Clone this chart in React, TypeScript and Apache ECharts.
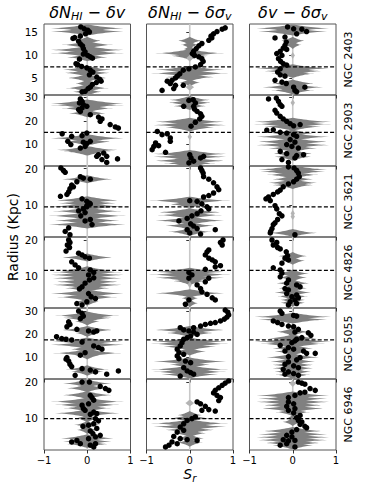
import React, { useEffect, useRef } from 'react';
import * as echarts from 'echarts';

const galaxies = ['NGC 2403', 'NGC 2903', 'NGC 3621', 'NGC 4826', 'NGC 5055', 'NGC 6946'];
const yMin = [1.3, 0.77, 1.18, 0.95, 0.63, 1.27];
const yMax = [16.74, 31.0, 20.74, 20.84, 31.3, 20.83];
const yTicks = [[5, 10, 15], [10, 20, 30], [10, 20], [10, 20], [10, 20, 30], [10, 20]];
const dashed = [7.4, 15.1, 9.5, 11.5, 17.5, 9.9];
const xTicks = [-1, 0, 1];

// points: [S_r, radius]
const p2403a = [[-0.15,16.1],[-0.07,15.7],[0.01,15.4],[0.05,15.0],[-0.04,14.6],[-0.16,14.1],[-0.29,13.8],[-0.33,13.6],[-0.2,13.0],[-0.16,12.4],[-0.11,12.0],[-0.09,11.4],[-0.05,10.7],[-0.09,10.2],[0.01,9.9],[0.07,9.6],[0.12,9.3],[-0.18,9.1],[-0.26,8.1],[-0.22,7.9],[-0.13,7.5],[-0.01,7.2],[0.07,6.7],[0.13,6.3],[0.05,5.7],[0.22,5.2],[0.29,4.7],[0.32,4.3],[0.21,4.0],[0.12,3.6],[0.07,3.0],[0.02,2.7],[-0.05,2.1],[-0.12,2.0]];
const p2403b = [[0.82,15.9],[0.75,15.6],[0.63,15.1],[0.55,14.6],[0.49,14.1],[0.51,13.7],[0.44,13.2],[0.28,12.5],[0.21,12.0],[0.15,11.4],[0.09,10.8],[0.06,10.3],[0.11,9.9],[0.21,9.6],[0.28,9.2],[0.31,8.6],[0.25,7.9],[0.13,7.4],[-0.02,7.0],[-0.15,6.7],[-0.23,5.9],[-0.29,5.4],[-0.33,5.0],[-0.41,4.5],[-0.52,4.3],[-0.45,3.8],[-0.33,3.4],[-0.15,3.4],[-0.37,2.7],[-0.64,2.3]];
const p2403c = [[-0.12,16.1],[0.02,15.7],[0.21,15.6],[0.32,15.1],[0.09,14.6],[-0.18,13.9],[-0.41,13.7],[-0.15,12.8],[-0.18,12.1],[-0.22,11.5],[-0.14,11.2],[-0.29,10.8],[-0.37,10.3],[-0.25,9.9],[-0.33,9.2],[-0.28,8.6],[-0.22,8.1],[-0.14,7.8],[-0.29,7.0],[-0.35,6.3],[-0.29,5.7],[-0.18,5.4],[-0.41,4.5],[-0.25,4.1],[-0.15,3.8],[0.02,3.0],[0.05,2.3],[0.09,2.0],[0.28,3.0]];
const p2903a = [[-0.16,29.3],[-0.12,28.3],[-0.18,27.6],[-0.09,26.9],[-0.01,26.2],[-0.12,25.5],[-0.2,24.8],[-0.16,24.0],[0.07,22.6],[0.26,21.6],[0.34,20.8],[0.3,19.8],[0.53,18.4],[0.65,17.4],[0.72,16.9],[-0.58,14.5],[-0.36,13.4],[-0.12,13.7],[-0.01,14.8],[-0.45,11.3],[-0.38,9.9],[-0.09,10.9],[-0.01,10.3],[0.07,11.3],[-0.16,8.4],[-0.05,9.1],[0.26,5.6],[0.38,6.3],[0.45,4.9],[0.22,4.9],[0.34,3.5],[0.45,2.3],[0.7,3.8]];
const p2903b = [[-0.14,26.2],[-0.02,28.7],[0.08,29.0],[0.13,27.6],[0.09,26.2],[0.11,25.0],[0.17,24.0],[0.25,23.0],[0.28,21.9],[0.23,20.8],[0.13,19.4],[0.03,17.7],[-0.75,15.5],[-0.64,14.1],[-0.52,14.5],[-0.45,12.7],[-0.45,11.3],[-0.79,10.6],[-0.83,9.1],[-0.72,9.4],[-0.87,7.7],[-0.56,6.6],[0,5.6],[0.03,4.2],[0.09,2.8],[0.25,4.2],[0.32,4.9],[-0.02,2.1]];
const p2903c = [[-0.56,29.3],[-0.38,29.7],[-0.33,28.3],[-0.29,26.9],[-0.25,26.2],[-0.41,24.5],[-0.37,23.3],[-0.29,21.9],[-0.22,20.8],[-0.14,19.8],[-0.06,18.8],[0.02,17.9],[0.17,18.4],[-0.6,16.0],[-0.45,16.2],[-0.29,15.1],[-0.14,14.8],[0.02,14.1],[0.09,13.4],[-0.06,12.0],[0.05,10.9],[-0.14,9.9],[-0.02,9.1],[0.13,8.4],[-0.29,7.0],[-0.14,6.0],[0.09,5.2],[0.25,5.6],[-0.25,3.5],[-0.1,2.3],[0.05,4.2]];
const p3621a = [[-0.61,20.2],[-0.55,19.5],[-0.51,19.0],[-0.16,17.8],[-0.09,17.4],[0.07,17.1],[-0.24,16.4],[-0.36,15.5],[-0.32,15.0],[-0.4,14.5],[-0.43,13.6],[-0.47,12.9],[-0.62,12.4],[-0.12,11.7],[-0.01,11.0],[0.07,10.3],[0.05,10.5],[-0.01,9.8],[-0.01,9.5],[-0.09,8.9],[-0.2,8.4],[-0.05,7.9],[-0.15,7.0],[0.07,6.0],[-0.05,5.6],[0.11,4.6],[-0.43,3.7],[-0.51,2.7],[-0.4,1.8]];
const p3621b = [[0.25,20.2],[0.28,19.5],[0.31,18.8],[0.32,17.8],[0.44,17.1],[0.55,16.1],[0.63,15.0],[0.67,14.2],[0.55,13.3],[0.44,12.6],[0.32,12.2],[0.17,11.0],[0,11.2],[0.28,10.3],[0.4,9.5],[0.44,8.9],[0.26,8.4],[0.17,7.6],[0.05,7.0],[-0.06,6.3],[-0.25,5.6],[0.02,4.8],[0.09,4.2],[0.17,3.5],[-0.06,3.2],[0,2.3],[0.25,2.0],[0.59,3.2]];
const p3621c = [[-0.1,20.5],[0.03,20.2],[0.09,19.5],[0.13,18.8],[0.15,17.8],[0.09,17.1],[0.02,16.4],[-0.1,15.8],[-0.22,15.0],[-0.29,14.1],[-0.35,13.6],[-0.45,12.9],[-0.56,12.2],[-0.62,11.7],[-0.52,11.2],[-0.41,9.8],[-0.37,8.9],[-0.31,7.6],[-0.25,7.0],[-0.35,6.0],[-0.41,5.1],[-0.45,4.6],[-0.48,3.5],[-0.51,2.7],[-0.52,2.3],[0.05,1.8]];
const p4826a = [[-0.43,20],[-0.4,19.3],[-0.46,18.6],[-0.41,17.9],[-0.49,16.9],[-0.2,16.3],[-0.12,15.8],[-0.05,15.3],[0.05,14.9],[-0.36,13.9],[-0.28,13.0],[-0.2,12.2],[0.07,11.6],[0.15,10.9],[0.03,10.2],[0.15,9.4],[0.05,8.8],[-0.05,7.9],[-0.12,6.9],[-0.18,6.3],[0.03,5.0],[0.09,4.1],[0.19,3.6],[-0.24,2.2],[-0.12,1.8],[-0.01,2.7]];
const p4826b = [[0.77,20],[0.71,19.3],[0.75,18.6],[0.44,17.2],[0.4,16.7],[0.36,15.8],[0.44,14.9],[0.52,14.4],[0.59,13.9],[0.71,12.8],[0.59,12.5],[0.36,11.8],[-0.02,10.9],[0.05,10.2],[-0.02,9.3],[0.44,9.3],[0.36,8.3],[0.17,7.4],[0.25,6.4],[0.28,5.5],[0.4,4.8],[0.52,3.8],[0.59,3.2],[-0.1,2.0],[-0.02,3.2]];
const p4826c = [[-0.48,20],[-0.37,19.3],[-0.45,18.6],[-0.35,17.9],[-0.29,17.5],[-0.15,16.7],[-0.12,15.6],[-0.18,14.9],[-0.1,14.4],[-0.25,13.5],[-0.45,12.2],[-0.29,11.6],[-0.25,10.7],[-0.29,9.7],[-0.1,8.8],[-0.14,7.9],[0.09,7.4],[0.17,6.9],[-0.18,6.4],[-0.1,6.0],[-0.14,5.0],[0.09,4.6],[0.13,3.8],[-0.02,4.1],[0.05,3.2],[-0.06,2.7],[0.09,2.2],[-0.1,1.8]];
const p5055a = [[-0.2,30],[-0.12,29],[-0.09,27.8],[-0.16,26.7],[-0.43,25.3],[-0.4,24.2],[-0.47,23.2],[-0.24,22.1],[0.03,21.4],[0.15,20.9],[0.22,21.4],[-0.71,18.9],[-0.59,18.1],[-0.49,17.8],[-0.36,17.5],[-0.12,16.6],[0.15,14.9],[0.26,14.2],[0.34,13.5],[-0.05,12.0],[-0.16,10.9],[-0.47,9.9],[-0.49,9.2],[-0.43,8.4],[-0.4,7.0],[-0.36,6.0],[-0.12,5.1],[0.07,4.5],[0.19,3.7],[0.45,2.7],[0.72,4.1],[-0.28,2.2]];
const p5055b = [[0.82,30.4],[0.88,29.5],[0.9,28.3],[0.86,27.4],[0.8,26.5],[0.71,25.7],[0.59,25.0],[0.48,24.7],[0.36,24.2],[0.25,23.5],[0.09,22.8],[-0.22,22.8],[-0.14,21.8],[-0.02,21.4],[0.09,20.9],[0.17,19.9],[0.02,19.2],[-0.06,18.5],[-0.14,17.8],[-0.18,16.3],[-0.22,14.9],[-0.29,13.5],[-0.25,12.0],[-0.14,11.3],[-0.29,10.6],[-0.25,9.4],[-0.1,8.4],[0.02,7.7],[-0.14,5.5],[-0.06,4.1],[0.02,3.4],[0.09,2.7],[-0.22,1.9]];
const p5055c = [[-0.29,30],[-0.25,29],[0.02,28.1],[0.09,27.8],[-0.45,25.7],[-0.35,25.0],[-0.25,24.2],[-0.1,23.5],[0.02,23.2],[0.13,22.1],[0.05,20.9],[0.36,20.6],[0.42,19.5],[0.21,18.5],[0.09,17.8],[0.05,17.1],[-0.02,16.3],[-0.29,15.2],[-0.1,14.2],[0.02,13.5],[-0.18,12.7],[0.25,12.7],[0.32,11.7],[0.52,11.7],[-0.1,10.3],[0.17,9.9],[0.09,8.9],[-0.1,8.0],[-0.18,7.0],[0.02,6.3],[0.13,5.5],[-0.22,4.8],[-0.1,3.7],[0.02,3.0],[0.13,2.2],[-0.18,2.7]];
const p6946a = [[-0.12,20],[0.05,20],[0.3,18.8],[0.42,18.2],[0.5,17.7],[0.07,16.3],[0.11,15.7],[0.15,15.0],[0.03,14.0],[-0.12,13.6],[-0.09,12.7],[-0.05,12.2],[0.15,11.7],[0.22,11.3],[0.07,11.1],[0.19,9.9],[0.26,9.3],[0.15,8.5],[0.03,8.1],[-0.1,7.8],[0.22,7.2],[0.07,6.5],[0.13,5.8],[0.3,5.3],[0.19,4.9],[0.03,4.4],[-0.24,3.9],[-0.36,3.5],[-0.16,3.0],[0.07,2.6],[0.19,3.0],[0.15,2.1]];
const p6946b = [[0.9,20.3],[0.82,19.7],[0.75,19.1],[0.67,18.4],[0.59,17.7],[0.55,17.0],[0.63,16.3],[0.71,15.7],[0.67,14.9],[0.17,14.5],[0.25,14.0],[0.36,13.3],[0.44,12.4],[0.28,12.2],[0.59,12.0],[0.13,10.4],[0.05,9.9],[-0.06,9.4],[-0.14,8.5],[-0.22,7.6],[-0.14,6.7],[-0.29,6.2],[-0.37,5.0],[-0.22,4.4],[-0.06,4.1],[0.17,3.9],[-0.41,3.5],[-0.48,2.6],[-0.56,2.1],[-0.29,3.0]];
const p6946c = [[0.13,20],[0.21,19.7],[0.28,19.4],[0.4,18.2],[0.52,17.7],[0.28,17.2],[0.17,17.0],[0.05,16.3],[-0.1,15.7],[-0.1,14.5],[0.02,14.0],[-0.14,13.3],[0.05,12.7],[-0.1,12.2],[0.02,11.5],[0.17,10.8],[0.09,10.2],[0.13,9.4],[0.21,9.0],[0.17,8.3],[0.28,7.8],[0.32,7.4],[0.09,6.9],[-0.02,6.2],[-0.14,5.3],[-0.02,4.9],[-0.22,4.1],[-0.1,3.8],[0.05,3.9],[-0.14,3.0],[-0.29,2.6],[0.05,2.1]];

// violins: [radius, half-extent in S_r]
const v2403a = [[15.8,0.9],[15.1,0.9],[13.1,0.35],[12.2,0.6],[11.1,0.9],[10.4,0.85],[9.5,0.5],[6.8,0.6],[6.1,0.55],[5.0,0.5],[3.8,0.3],[2.8,0.5],[2.0,0.35]];
const v2403b = [[13.1,0.3],[12.2,0.2],[11.3,0.15],[10.4,0.8],[9.8,0.45],[9.3,0.08],[6.8,0.85],[6.0,0.9],[5.2,0.6],[4.0,0.25],[3.0,0.1]];
const v2403c = [[15.8,0.9],[15.1,0.85],[13.1,0.3],[12.2,0.2],[9.9,0.05],[7.1,0.9],[6.5,0.7],[5.9,0.5],[3.8,0.55],[3.0,0.75],[2.3,0.5]];
const v2903a = [[27.4,0.9],[26.7,0.85],[25.3,0.6],[23.2,0.45],[12.6,0.9],[11.1,0.6],[7.6,0.75],[6.9,0.55]];
const v2903b = [[28.9,0.5],[27.7,0.55],[26.3,0.4],[19.6,0.85],[18.2,0.9],[17.2,0.6],[13.2,0.05],[5.9,0.9],[4.7,0.9],[3.0,0.9],[1.9,0.6]];
const v2903c = [[27.7,0.05],[19.6,0.95],[18.6,0.9],[17.5,0.7],[14.7,0.5],[13.2,0.9],[11.1,0.9],[9.7,0.9],[8.3,0.6],[6.1,0.5],[4.7,0.45]];
const v3621a = [[17.1,0.62],[11.3,0.8],[10.5,0.7],[9.6,0.9],[8.3,0.8],[7.0,0.9],[5.7,0.8],[4.6,0.95]];
const v3621b = [[11.2,0.95],[10.2,0.5],[8.8,0.05],[8.0,0.8],[7.2,0.75],[6.2,0.3],[5.7,0.85],[4.3,0.6],[2.6,0.5]];
const v3621c = [[19.8,0.85],[19.2,0.8],[18.3,0.6],[17.1,0.5],[16.1,0.6],[15.5,0.5],[7.7,0.05],[6.8,0.05],[2.3,0.6]];
const v4826a = [[15.1,0.65],[11.5,0.6],[11.0,0.8],[10.2,0.9],[9.3,0.85],[8.3,0.8],[7.4,0.85],[6.5,0.55],[5.0,0.9],[4.0,0.7],[2.7,0.3]];
const v4826b = [[11.1,0.9],[10.3,0.95],[9.4,0.85],[8.5,0.4],[7.5,0.05],[5.1,0.85],[3.7,0.2],[2.3,0.2]];
const v4826c = [[15.5,0.35],[14.2,0.3],[10.6,0.4],[9.5,0.35],[7.9,0.4],[6.5,0.35],[5.3,0.45],[4.2,0.35],[3.2,0.3],[2.4,0.3]];
const v5055a = [[28.0,0.75],[27.0,0.6],[25.5,0.3],[21.8,0.65],[20.5,0.3],[16.8,0.85],[15.4,0.9],[13.5,0.4],[11.8,0.8],[10.8,0.3],[4.8,0.5],[3.8,0.4]];
const v5055b = [[21.8,0.9],[20.5,0.6],[16.8,0.9],[15.8,0.9],[14.6,0.65],[12.5,0.4],[8.2,0.9],[6.8,0.5],[4.8,0.9],[3.7,0.85],[2.6,0.7]];
const v5055c = [[27.5,0.95],[26.3,0.85],[21.0,0.4],[18.2,0.6],[16.8,0.95],[15.8,0.75],[13.9,0.5],[12.5,0.45],[10.0,0.65],[8.2,0.55],[6.7,0.5],[5.3,0.5],[3.8,0.45],[2.4,0.4]];
const v6946a = [[19.6,0.6],[18.3,0.5],[16.4,0.6],[14.6,0.85],[13.7,0.75],[12.8,0.55],[11.4,0.8],[10.0,0.3],[8.2,0.3],[6.8,0.25],[4.5,0.65],[3.6,0.6],[2.9,0.5]];
const v6946b = [[14.2,0.1],[10.9,0.3],[10.0,0.5],[8.6,0.9],[7.7,0.9],[6.8,0.6],[5.9,0.4],[4.5,0.35],[3.3,0.3]];
const v6946c = [[19.6,0.08],[16.3,0.9],[15.4,0.85],[14.5,0.9],[13.6,0.75],[12.7,0.8],[11.7,0.4],[10.0,0.15],[9.0,0.25],[6.5,0.75],[5.6,0.85],[4.8,0.9],[4.0,0.85],[3.2,0.7],[2.5,0.5]];

const panelPoints = [
  [p2403a, p2403b, p2403c], [p2903a, p2903b, p2903c], [p3621a, p3621b, p3621c],
  [p4826a, p4826b, p4826c], [p5055a, p5055b, p5055c], [p6946a, p6946b, p6946c],
];
const panelViolins = [
  [v2403a, v2403b, v2403c], [v2903a, v2903b, v2903c], [v3621a, v3621b, v3621c],
  [v4826a, v4826b, v4826c], [v5055a, v5055b, v5055c], [v6946a, v6946b, v6946c],
];

const COL_LEFT = [44, 146.5, 249.5];
const COL_W = 86.5;
const ROW_TOP0 = 24;
const ROW_H = 71;
const VIOLIN_H = 4;
const FONT = 'DejaVu Sans';
const SPINE = '#555555';

const titleRich = {
  i: { fontFamily: FONT, fontStyle: 'italic', fontSize: 16, lineHeight: 20, fill: '#000' },
  n: { fontFamily: FONT, fontSize: 16, lineHeight: 20, fill: '#000' },
  s: { fontFamily: FONT, fontStyle: 'italic', fontSize: 11, lineHeight: 11, verticalAlign: 'bottom', fill: '#000' },
};
const titles = ['{i|δN}{s|HI}{n| − }{i|δv}', '{i|δN}{s|HI}{n| − }{i|δσ}{s|v}', '{i|δv}{n| − }{i|δσ}{s|v}'];

function fmtX(v: number) {
  return v < 0 ? '\u2212' + Math.abs(v) : String(v);
}

export default function App() {
  const ref = useRef<HTMLDivElement>(null);
  useEffect(() => {
    document.body.style.margin = '0';
    const chart = echarts.init(ref.current!, null, { renderer: 'svg' });
    const grid: any[] = [];
    const xAxis: any[] = [];
    const yAxis: any[] = [];
    const series: any[] = [];
    for (let r = 0; r < 6; r++) {
      for (let c = 0; c < 3; c++) {
        const k = r * 3 + c;
        grid.push({
          left: COL_LEFT[c], top: ROW_TOP0 + r * ROW_H, width: COL_W, height: ROW_H,
          show: true, borderColor: SPINE, borderWidth: 1, backgroundColor: 'transparent', containLabel: false,
        });
        xAxis.push({
          gridIndex: k, type: 'value', min: -1, max: 1, interval: 1,
          axisLine: { show: false }, splitLine: { show: false },
          axisTick: { show: true, length: 3.5, lineStyle: { color: '#333', width: 1 } },
          axisLabel: { show: r === 5, formatter: fmtX, fontSize: 10, fontFamily: FONT, color: '#000', margin: 5 },
        });
        yAxis.push({
          gridIndex: k, type: 'value', min: yMin[r], max: yMax[r],
          axisLine: { show: false }, splitLine: { show: false },
          axisTick: { show: true, length: 3.5, customValues: yTicks[r], lineStyle: { color: '#333', width: 1 } },
          axisLabel: { show: c === 0, customValues: yTicks[r], fontSize: 10.5, fontFamily: FONT, color: '#000', margin: 6 },
        });
        series.push({
          type: 'line', xAxisIndex: k, yAxisIndex: k, silent: true, symbol: 'none', z: 1,
          data: [[0, yMin[r]], [0, yMax[r]]],
          lineStyle: { color: '#c8c8c8', width: 1.6 },
        });
        series.push({
          type: 'custom', xAxisIndex: k, yAxisIndex: k, silent: true, z: 2,
          data: panelViolins[r][c],
          encode: { x: 1, y: 0 },
          renderItem: (params: any, api: any) => {
            const y = api.value(0);
            const w = api.value(1);
            const light = w <= 0.1;
            const n = 30;
            const top: number[][] = [];
            const bot: number[][] = [];
            const hh = light ? 3.4 : VIOLIN_H;
            for (let i = 0; i <= n; i++) {
              const x = -w + (2 * w * i) / n;
              const t = Math.min(1, Math.abs(x) / w);
              const th = hh * Math.pow(1 - t, light ? 1 : 1.8);
              const p = api.coord([x, y]);
              top.push([p[0], p[1] - th]);
              bot.push([p[0], p[1] + th]);
            }
            return {
              type: 'polygon',
              shape: { points: top.concat(bot.reverse()) },
              style: { fill: light ? '#b4b4b4' : '#808080', stroke: null },
            };
          },
        });
        series.push({
          type: 'line', xAxisIndex: k, yAxisIndex: k, silent: true, symbol: 'none', z: 3,
          data: [[-1, dashed[r]], [1, dashed[r]]],
          lineStyle: { color: '#000', width: 1.3, type: [4, 2.2] },
        });
        series.push({
          type: 'scatter', xAxisIndex: k, yAxisIndex: k, silent: true, z: 4,
          data: panelPoints[r][c], symbolSize: 5.5, itemStyle: { color: '#000', opacity: 1 },
        });
      }
    }
    const graphic: any[] = [];
    for (let c = 0; c < 3; c++) {
      graphic.push({
        type: 'text', x: COL_LEFT[c] + COL_W / 2, y: 12,
        style: { text: titles[c], rich: titleRich, align: 'center', verticalAlign: 'middle' },
      });
    }
    for (let r = 0; r < 6; r++) {
      graphic.push({
        type: 'text', x: 348.5, y: ROW_TOP0 + r * ROW_H + ROW_H / 2, rotation: Math.PI / 2,
        style: { text: galaxies[r], font: `11px "${FONT}"`, fill: '#000', align: 'center', verticalAlign: 'middle' },
      });
    }
    graphic.push({
      type: 'text', x: 13, y: ROW_TOP0 + 3 * ROW_H, rotation: Math.PI / 2,
      style: { text: 'Radius (Kpc)', font: `14px "${FONT}"`, fill: '#000', align: 'center', verticalAlign: 'middle' },
    });
    graphic.push({
      type: 'text', x: COL_LEFT[1] + COL_W / 2, y: 474,
      style: {
        text: '{i|S}{s|r}', align: 'center', verticalAlign: 'middle',
        rich: {
          i: { fontFamily: FONT, fontStyle: 'italic', fontSize: 14, lineHeight: 18, fill: '#000' },
          s: { fontFamily: FONT, fontStyle: 'italic', fontSize: 10, lineHeight: 10, verticalAlign: 'bottom', fill: '#000' },
        },
      },
    });
    chart.setOption({ animation: false, grid, xAxis, yAxis, series, graphic });
    return () => chart.dispose();
  }, []);
  return <div ref={ref} style={{ width: 365, height: 484 }} />;
}
